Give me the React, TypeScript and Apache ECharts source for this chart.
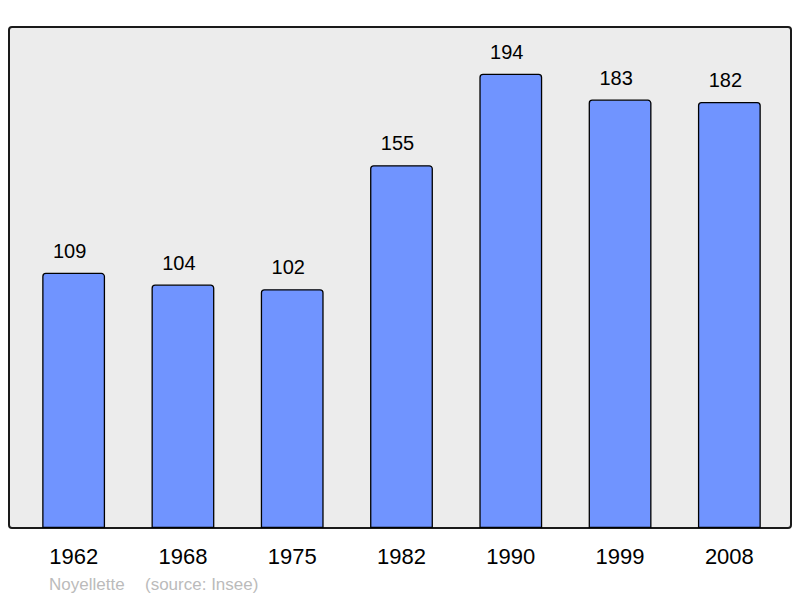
import { useEffect, useRef } from 'react'
import * as echarts from 'echarts'

const years = ['1962', '1968', '1975', '1982', '1990', '1999', '2008']
const population = [109, 104, 102, 155, 194, 183, 182]
const commune = 'Noyellette'
const source = '(source: Insee)'

const FONT = '"Liberation Sans", Arial, sans-serif'

const App: React.FC = () => {
  const chartRef = useRef<HTMLDivElement | null>(null)

  useEffect(() => {
    if (!chartRef.current) return
    const chart = echarts.init(chartRef.current, null, { renderer: 'svg' })

    const option: echarts.EChartsOption = {
      animation: false,
      grid: { left: 19, right: 16, top: 27, bottom: 70 },
      graphic: [
        {
          type: 'rect',
          z: -10,
          shape: { x: 9, y: 27, width: 782, height: 501, r: 3 },
          style: { fill: '#ececec', stroke: '#1a1a1a', lineWidth: 2 },
          silent: true,
        },
        {
          type: 'text',
          x: 49,
          y: 584,
          style: {
            text: commune,
            fill: '#bbbbbb',
            font: `17px ${FONT}`,
            verticalAlign: 'middle',
          },
        },
        {
          type: 'text',
          x: 145,
          y: 584,
          style: {
            text: source,
            fill: '#bbbbbb',
            font: `17px ${FONT}`,
            verticalAlign: 'middle',
          },
        },
      ],
      xAxis: {
        type: 'category',
        data: years,
        axisLine: { show: false },
        axisTick: { show: false },
        axisLabel: {
          color: '#000',
          fontSize: 22,
          fontFamily: FONT,
          margin: 17,
          offset: [-1, 0],
        } as any,
      },
      yAxis: {
        type: 'value',
        min: 0,
        max: 214,
        show: false,
        splitLine: { show: false },
      },
      series: [
        {
          type: 'bar',
          data: population,
          barWidth: '57.5%',
          itemStyle: {
            color: '#7094ff',
            borderColor: '#000',
            borderWidth: 1.3,
            borderRadius: [3, 3, 0, 0],
          },
          label: {
            show: true,
            position: 'top',
            distance: 12,
            offset: [-4, 0],
            color: '#000',
            fontSize: 20,
            fontFamily: FONT,
          },
        },
      ],
    }

    chart.setOption(option)
    return () => {
      chart.dispose()
    }
  }, [])

  return (
    <div
      ref={chartRef}
      style={{ width: 800, height: 598, position: 'absolute', left: 0, top: 0 }}
    />
  )
}

export default App
